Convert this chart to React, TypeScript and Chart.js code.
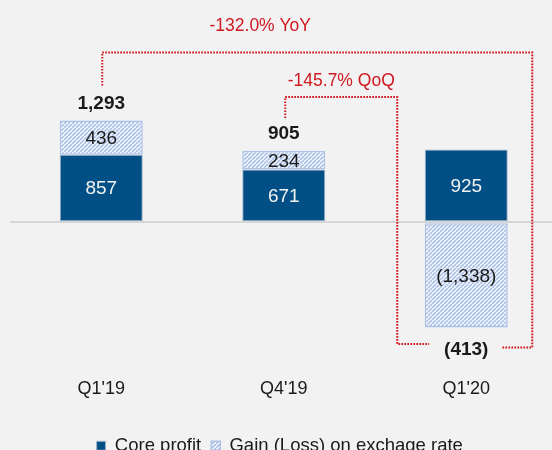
import React, { useEffect, useRef } from "react";
import { Chart, registerables } from "chart.js";

Chart.register(...registerables);

// ---- data ----
const categories = ["Q1'19", "Q4'19", "Q1'20"];
const coreProfit = [857, 671, 925];
const fxGainLoss = [436, 234, -1338];
const seriesNames = ["Core profit", "Gain (Loss) on exchage rate"];
const changeLabels = ["-132.0% YoY", "-145.7% QoQ"];

const FONT = "'Liberation Sans', Arial, Helvetica, sans-serif";
const CORE_COLOR = "#024f86";
const HATCH_LINE = "#adc2e6";
const RED = "#cf1820";
const TEXT = "#1a1a1a";

function fmt(v: number): string {
  const s = Math.abs(v).toLocaleString("en-US");
  return v < 0 ? `(${s})` : s;
}

function makeHatch(): CanvasPattern | string {
  const c = document.createElement("canvas");
  const n = 4;
  c.width = n;
  c.height = n;
  const g = c.getContext("2d");
  if (!g) return "#dce6f5";
  g.fillStyle = "#fbfcfe";
  g.fillRect(0, 0, n, n);
  g.strokeStyle = HATCH_LINE;
  g.lineWidth = 1.7;
  for (let k = -1; k <= 1; k++) {
    g.beginPath();
    g.moveTo(k * n, n);
    g.lineTo(k * n + n, 0);
    g.stroke();
  }
  const p = g.createPattern(c, "repeat");
  return p || "#dce6f5";
}

const legendShiftPlugin = {
  id: "legendShift",
  afterLayout(chart: any) {
    const lg = chart.legend;
    if (lg) {
      lg.left -= 8;
      lg.top += 3;
      lg.bottom += 3;
    }
  },
};

const labelsPlugin = {
  id: "valueLabels",
  afterDatasetsDraw(chart: any) {
    const ctx: CanvasRenderingContext2D = chart.ctx;
    const xs = chart.scales.x;
    ctx.save();
    ctx.textAlign = "center";
    ctx.textBaseline = "middle";
    // segment labels
    chart.data.datasets.forEach((ds: any, di: number) => {
      const meta = chart.getDatasetMeta(di);
      meta.data.forEach((el: any, i: number) => {
        const v = ds.data[i] as number;
        ctx.font = `19px ${FONT}`;
        ctx.fillStyle = di === 0 ? "#f2f2f2" : TEXT;
        ctx.fillText(fmt(v), el.x, (el.y + el.base) / 2 + 1);
      });
    });
    // totals
    const totalsY: number[] = [];
    categories.forEach((_, i) => {
      const total = coreProfit[i] + fxGainLoss[i];
      let y: number;
      const els = chart.data.datasets.map((_: any, di: number) => chart.getDatasetMeta(di).data[i]);
      if (total >= 0) {
        const top = Math.min(...els.map((e: any) => Math.min(e.y, e.base)));
        y = top - 18;
      } else {
        const bot = Math.max(...els.map((e: any) => Math.max(e.y, e.base)));
        y = bot + 21;
      }
      totalsY.push(y);
      ctx.font = `bold 19px ${FONT}`;
      ctx.fillStyle = TEXT;
      ctx.fillText(fmt(total), xs.getPixelForValue(i), y + 1);
    });

    // change brackets
    const x0 = xs.getPixelForValue(0);
    const x1 = xs.getPixelForValue(1);
    const x2 = xs.getPixelForValue(2);
    const [t0, t1, t2] = totalsY;
    ctx.strokeStyle = RED;
    ctx.lineWidth = 2;
    ctx.setLineDash([1.7, 1.3]);
    ctx.beginPath();
    ctx.moveTo(x0 + 1, t0 - 17);
    ctx.lineTo(x0 + 1, t0 - 50);
    ctx.lineTo(x2 + 66, t0 - 50);
    ctx.lineTo(x2 + 66, t2 - 1);
    ctx.lineTo(x2 + 36, t2 - 1);
    ctx.stroke();
    ctx.beginPath();
    ctx.moveTo(x1 + 1.5, t1 - 15);
    ctx.lineTo(x1 + 1.5, t1 - 36);
    ctx.lineTo(x2 - 69, t1 - 36);
    ctx.lineTo(x2 - 69, t2 - 4.5);
    ctx.lineTo(x2 - 37, t2 - 4.5);
    ctx.stroke();
    ctx.setLineDash([]);

    ctx.font = `17.5px ${FONT}`;
    ctx.fillStyle = RED;
    ctx.fillText(changeLabels[0], x0 + 159, t0 - 76);
    ctx.fillText(changeLabels[1], (x1 + 1.5 + x2 - 69) / 2, t1 - 52);
    ctx.restore();
  },
};

export default function App() {
  const ref = useRef<HTMLCanvasElement | null>(null);

  useEffect(() => {
    const canvas = ref.current;
    if (!canvas) return;
    const hatch = makeHatch();
    const chart = new Chart(canvas, {
      type: "bar",
      data: {
        labels: categories,
        datasets: [
          {
            label: seriesNames[0],
            data: coreProfit,
            backgroundColor: CORE_COLOR,
            borderColor: "#9fb3cc",
            borderWidth: 1,
            borderSkipped: false,
            categoryPercentage: 1,
            barPercentage: 0.455,
          },
          {
            label: seriesNames[1],
            data: fxGainLoss,
            backgroundColor: hatch as any,
            borderColor: HATCH_LINE,
            borderWidth: 1.5,
            borderSkipped: false,
            categoryPercentage: 1,
            barPercentage: 0.455,
          },
        ],
      },
      options: {
        responsive: false,
        animation: false,
        devicePixelRatio: 1,
        layout: { padding: { left: 10, right: 2.5, top: 65, bottom: 0 } },
        plugins: {
          tooltip: { enabled: false },
          legend: {
            position: "bottom",
            labels: {
              boxWidth: 9,
              boxHeight: 9,
              padding: 10,
              color: TEXT,
              font: { family: FONT, size: 18.5 },
            },
          },
        },
        scales: {
          x: {
            stacked: true,
            grid: { display: false, drawTicks: false },
            border: { display: false },
            ticks: { color: TEXT, font: { family: FONT, size: 18 }, padding: -1 },
            afterFit: (s: any) => {
              s.height = 44;
            },
          },
          y: {
            stacked: true,
            display: true,
            min: -2000,
            max: 2000,
            ticks: { display: false, stepSize: 1000 },
            border: { display: false },
            grid: {
              drawTicks: false,
              lineWidth: 2,
              color: (c: any) => (c.tick && c.tick.value === 0 ? "#d6d6d6" : "rgba(0,0,0,0)"),
            },
            afterFit: (s: any) => {
              s.width = 0;
            },
          },
        },
      },
      plugins: [labelsPlugin, legendShiftPlugin],
    });
    return () => chart.destroy();
  }, []);

  return (
    <div
      style={{
        position: "fixed",
        left: 0,
        top: 0,
        width: 552,
        height: 450,
        overflow: "hidden",
        background: "#f2f2f2",
      }}
    >
      <canvas ref={ref} width={560} height={462} style={{ width: 560, height: 462, display: "block" }} />
    </div>
  );
}
